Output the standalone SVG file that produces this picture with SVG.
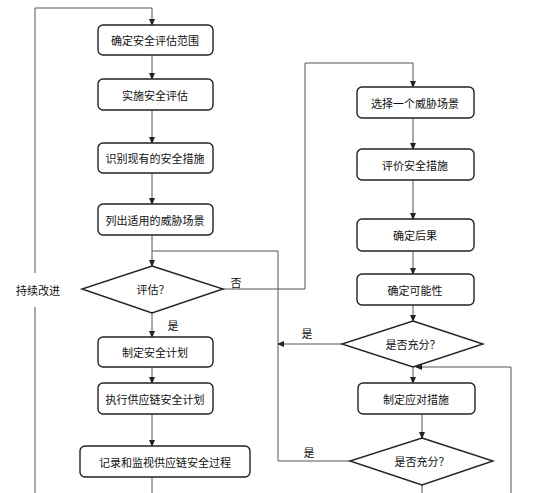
<svg xmlns="http://www.w3.org/2000/svg" width="534" height="493" viewBox="0 0 534 493">
<style>
.box{fill:#fff;stroke:#222;stroke-width:1.4}
.dia{fill:#fff;stroke:#222;stroke-width:1.4}
.t{font-family:"Noto Sans CJK SC","Liberation Sans",sans-serif;font-size:11px;fill:#111;text-anchor:middle;dominant-baseline:central}
.c{fill:none;stroke:#555;stroke-width:1}
</style>
<defs>
<marker id="a" markerWidth="7" markerHeight="6" refX="6" refY="3" orient="auto" markerUnits="userSpaceOnUse">
<path d="M0,0 L7,3 L0,6 Z" fill="#222"/>
</marker>
</defs>
<rect width="534" height="493" fill="#fff"/>
<g id="connectors">
<path class="c" d="M35,493 V307"/>
<path class="c" d="M35,273 V8 H152 V25" marker-end="url(#a)"/>
<path class="c" d="M152,55 V79" marker-end="url(#a)"/>
<path class="c" d="M152,110 V143" marker-end="url(#a)"/>
<path class="c" d="M152,173 V204" marker-end="url(#a)"/>
<path class="c" d="M152,235 V266" marker-end="url(#a)"/>
<path class="c" d="M152,313 V337" marker-end="url(#a)"/>
<path class="c" d="M152,367 V383" marker-end="url(#a)"/>
<path class="c" d="M152,414 V446" marker-end="url(#a)"/>
<path class="c" d="M152,477 V493"/>
<path class="c" d="M223,289 H305 V63 H413 V87" marker-end="url(#a)"/>
<path class="c" d="M413,118 V149" marker-end="url(#a)"/>
<path class="c" d="M413,180 V219" marker-end="url(#a)"/>
<path class="c" d="M413,251 V274" marker-end="url(#a)"/>
<path class="c" d="M413,305 V321" marker-end="url(#a)"/>
<path class="c" d="M342,344 H278" marker-end="url(#a)"/>
<path class="c" d="M413,367 V383" marker-end="url(#a)"/>
<path class="c" d="M422,414 V438" marker-end="url(#a)"/>
<path class="c" d="M350,461 H278 V251 H152"/>
<path class="c" d="M511,493 V367 H416" marker-end="url(#a)"/>
<path class="c" d="M422,485 V493"/>
</g>
<g id="n1"><rect class="box" x="98" y="25" width="115" height="30" rx="5"/><text class="t" x="155" y="40">确定安全评估范围</text></g>
<g id="n2"><rect class="box" x="98" y="79" width="115" height="31" rx="5"/><text class="t" x="155" y="94.5">实施安全评估</text></g>
<g id="n3"><rect class="box" x="98" y="143" width="115" height="30" rx="5"/><text class="t" x="155" y="158">识别现有的安全措施</text></g>
<g id="n4"><rect class="box" x="98" y="204" width="115" height="31" rx="5"/><text class="t" x="155" y="219.5">列出适用的威胁场景</text></g>
<g id="d1"><polygon class="dia" points="152,266 223,289 152,313 82,289"/><text class="t" x="153" y="289">评估？</text></g>
<g id="n5"><rect class="box" x="98" y="337" width="115" height="30" rx="5"/><text class="t" x="155" y="352">制定安全计划</text></g>
<g id="n6"><rect class="box" x="98" y="383" width="115" height="31" rx="5"/><text class="t" x="155" y="398.5">执行供应链安全计划</text></g>
<g id="n7"><rect class="box" x="80" y="446" width="170" height="31" rx="5"/><text class="t" x="165" y="461.5">记录和监视供应链安全过程</text></g>
<g id="r1"><rect class="box" x="357" y="87" width="117" height="31" rx="5"/><text class="t" x="415" y="102.5">选择一个威胁场景</text></g>
<g id="r2"><rect class="box" x="357" y="149" width="117" height="31" rx="5"/><text class="t" x="415" y="164.5">评价安全措施</text></g>
<g id="r3"><rect class="box" x="357" y="219" width="117" height="32" rx="5"/><text class="t" x="415" y="235">确定后果</text></g>
<g id="r4"><rect class="box" x="357" y="274" width="117" height="31" rx="5"/><text class="t" x="415" y="289.5">确定可能性</text></g>
<g id="d2"><polygon class="dia" points="413,321 483,344 413,367 342,344"/><text class="t" x="413" y="344">是否充分？</text></g>
<g id="r5"><rect class="box" x="358" y="383" width="117" height="31" rx="5"/><text class="t" x="416" y="398.5">制定应对措施</text></g>
<g id="d3"><polygon class="dia" points="422,438 493,461 422,485 350,461"/><text class="t" x="422" y="461">是否充分？</text></g>
<g id="labels">
<text class="t" x="38" y="290">持续改进</text>
<text class="t" x="236" y="282">否</text>
<text class="t" x="173" y="325">是</text>
<text class="t" x="307" y="333">是</text>
<text class="t" x="309" y="452">是</text>
</g>
</svg>
